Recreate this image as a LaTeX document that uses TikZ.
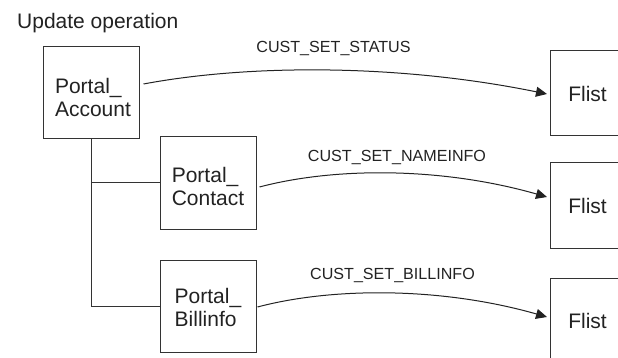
\documentclass[tikz,border=0pt]{standalone}
\usepackage{fontspec}
\setmainfont{Liberation Sans}
\usetikzlibrary{arrows.meta,calc}
\definecolor{ink}{HTML}{222222}
\definecolor{edge}{HTML}{333333}
\tikzset{
  box/.style={draw=edge, line width=1pt, minimum width=96pt, minimum height=92pt, inner sep=0pt},
  btxt/.style={align=left, inner sep=0pt, text=ink, font=\fontsize{21}{23.5}\selectfont},
  flbox/.style={draw=edge, line width=1pt, minimum width=74pt, minimum height=85pt, inner sep=0pt, anchor=west, text=ink, font=\fontsize{21}{23.5}\selectfont},
  lbl/.style={anchor=base, text=ink, inner sep=0pt, font=\fontsize{16.1}{19}\selectfont},
  conn/.style={draw=edge, line width=1pt},
  arr/.style={draw=ink, line width=1pt, -{Triangle[length=11pt,width=10pt]}}
}
\begin{document}
\begin{tikzpicture}[x=1pt,y=-1pt]
\useasboundingbox (0,0) rectangle (618,358);
\clip (0,0) rectangle (618,358);
\node[anchor=base west, inner sep=0pt, text=ink, font=\fontsize{21}{24}\selectfont] (title) at (17,29) {Update operation};
\node[box] (acct) at (91,93) {};
\node[box] (cont) at (208,183) {};
\node[box] (bill) at (208,306) {};
\node[btxt] (acctT) at ($(acct.center)+(2,4.4)$) {Portal\_\\Account};
\node[btxt] (contT) at ($(cont.center)+(0,3.4)$) {Portal\_\\Contact};
\node[btxt] (billT) at ($(bill.center)+(0,1.4)$) {Portal\_\\Billinfo};
\node[flbox] (fl1) at (550,93.5) {Flist};
\node[flbox] (fl2) at (550,205.5) {Flist};
\node[flbox] (fl3) at (550,320.5) {Flist};
\draw[conn] (acct.south) |- (bill.west);
\draw[conn] (acct.south |- cont.west) -- (cont.west);
\draw[arr] ($(acct.east)+(4,-9)$) .. controls (250,64) and (400,64) .. ($(fl1.west)+(-3,0.5)$);
\draw[arr] ($(cont.east)+(3,4)$) .. controls (335,167) and (442,167) .. ($(fl2.west)+(-3,-8.5)$);
\draw[arr] ($(bill.east)+(1,1)$) .. controls (333,287) and (442,287) .. ($(fl3.west)+(-3,-3.5)$);
\node[lbl] (l1) at (333.5,52.7) {CUST\_SET\_STATUS};
\node[lbl] (l2) at (397,162) {CUST\_SET\_NAMEINFO};
\node[lbl] (l3) at (392.5,279.3) {CUST\_SET\_BILLINFO};
\end{tikzpicture}
\end{document}
